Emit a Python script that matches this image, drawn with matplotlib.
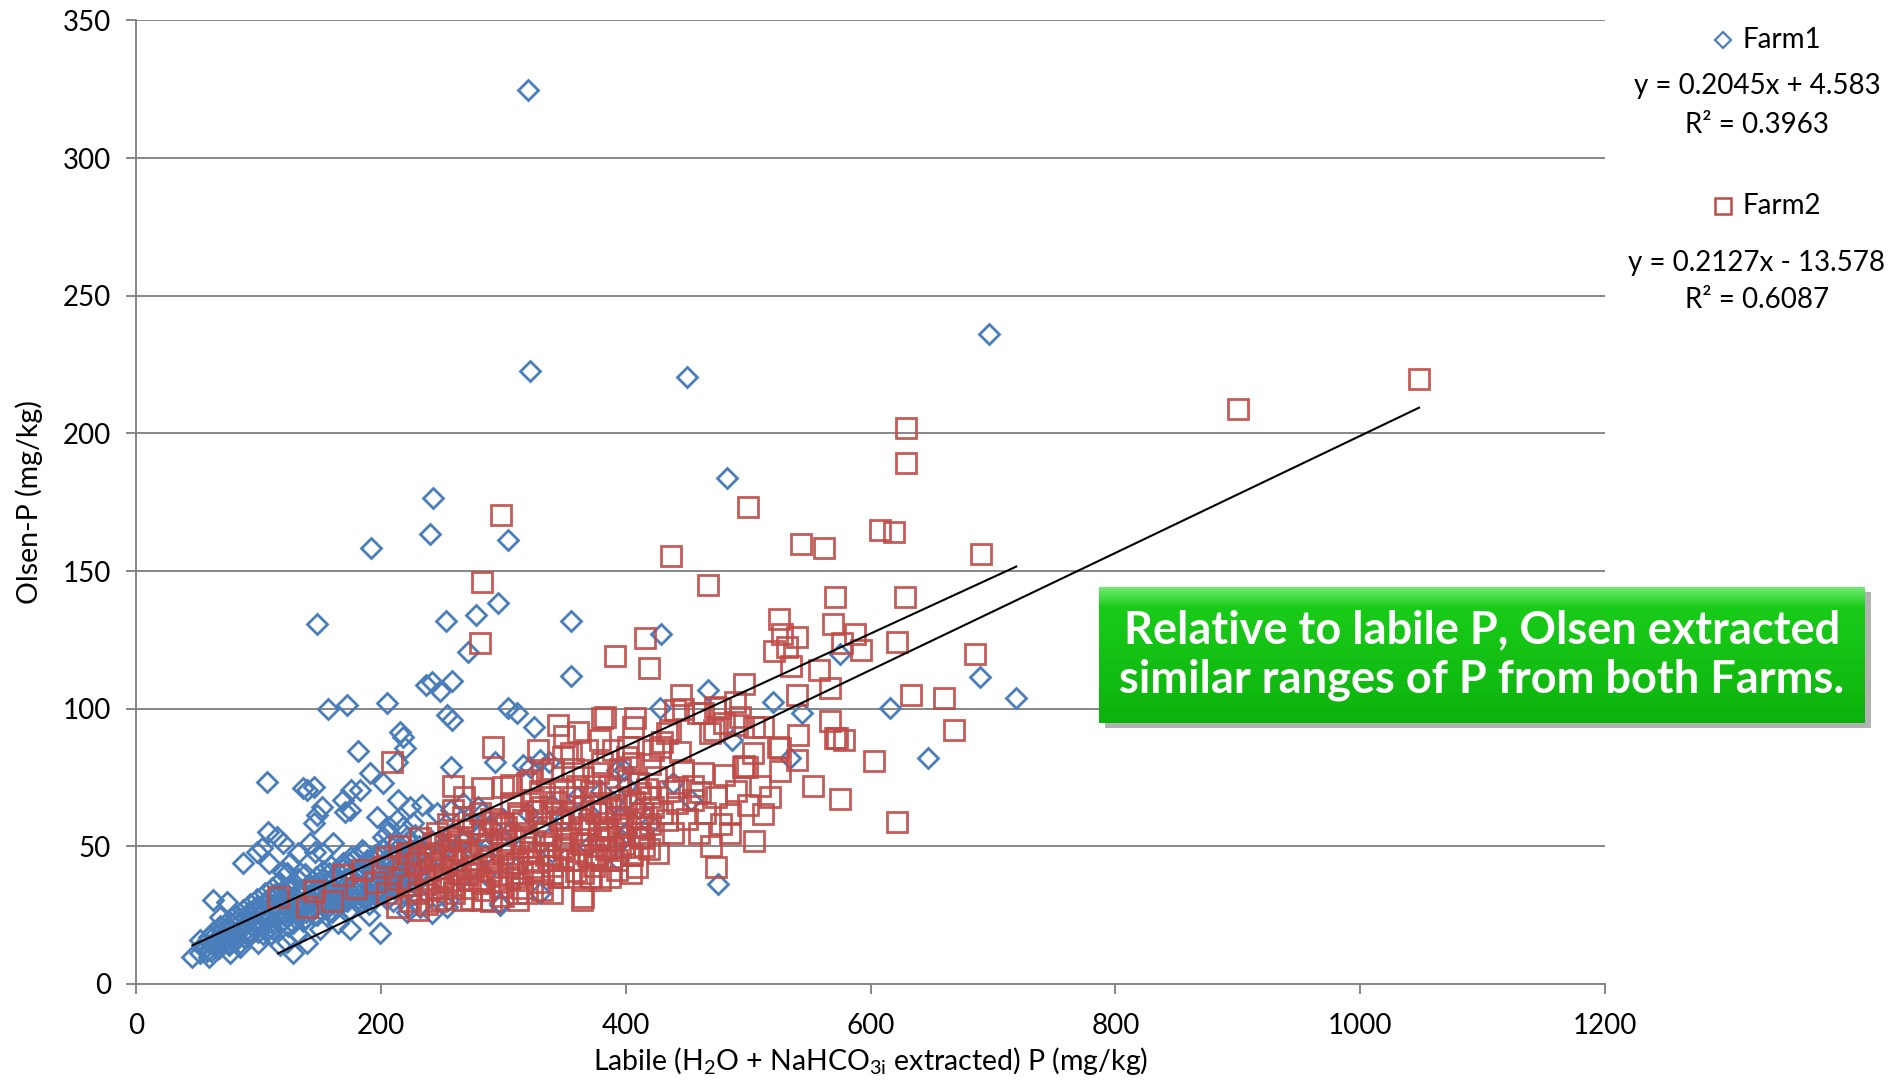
import numpy as np
import matplotlib
matplotlib.use("Agg")
import matplotlib.pyplot as plt
from matplotlib.lines import Line2D
from matplotlib.patches import Rectangle

plt.rcParams['font.family'] = ['Lato', 'DejaVu Sans']
plt.rcParams['mathtext.default'] = 'regular'

# Farm1 - labile P (x) and Olsen P (y)
farm1_x = [320, 322, 450, 697, 483, 243, 240, 304, 192, 148, 253, 278, 296, 355, 429, 355, 271,
           237, 242, 248, 258, 254, 258, 157, 172, 205, 304, 311, 325, 467, 428, 520, 544, 616,
           689, 719, 647, 534, 487, 475, 575, 293, 322, 337, 216, 218, 220, 181, 213, 257, 191,
           107, 136, 140, 145, 152, 148, 145, 169, 176, 171, 202, 214, 224, 234, 279, 283, 183,
           175, 197, 205, 218, 226, 246, 257, 267, 330, 316, 393, 399, 439, 453, 395, 397, 394,
           108, 115, 99, 103, 87, 63, 74, 69, 134, 126, 123, 146, 142, 158, 169, 176, 202, 207,
           213, 221, 185, 197, 213, 222, 242, 297, 255, 120, 132, 109, 120, 153, 161, 189, 197,
           148, 161, 172, 221, 232, 254, 297, 330, 199, 128,
           46, 52, 56, 60, 77, 85, 52, 123, 140, 55, 58, 62, 65, 68, 70, 72, 75, 78, 80, 82, 84,
           86, 88, 90, 92, 94, 96, 98, 100, 102, 104, 106, 108, 110, 112, 114, 116, 118, 120, 122,
           124, 126, 128, 130, 132, 134, 136, 138, 140, 142, 144, 146, 148, 150, 152, 154, 156,
           158, 160, 162, 164, 166, 168, 170, 172, 174, 176, 178, 180, 182, 184, 186, 188, 190,
           192, 194, 196, 198, 200, 202, 204, 206, 208, 210, 212, 214, 216, 218, 220, 222, 224,
           226, 228, 230, 234, 238, 242, 246, 250, 254, 258, 262, 266, 270, 275, 280, 285, 290,
           295, 300, 310, 320, 330, 340, 350, 360, 370, 380, 390, 400, 410, 420,
           100, 110, 118, 132, 150, 165, 175, 190, 210, 240, 265, 285, 310, 340, 370, 400,
           60, 63, 66, 69, 72, 75, 78, 81, 84, 87, 90, 93, 96, 99, 102, 105, 108, 111, 114, 117,
           120, 123, 126, 129, 132, 135, 138, 141, 144, 147, 150, 153, 156, 159, 162, 165, 168,
           171, 174, 177, 180, 183, 186, 189, 192, 195, 198, 201, 204, 207, 210, 213, 216, 219,
           222, 225, 228, 231,
           61, 64, 67, 70, 73, 76, 79, 82, 85, 88, 91, 94, 97, 100, 103, 106, 109, 112, 115, 118,
           121, 124, 127, 130, 133, 136, 139, 142, 145, 148, 151, 154, 157, 160, 163, 166, 169,
           172, 175, 178, 181, 184, 187, 190, 193, 196, 199, 202, 205, 208, 211, 214, 217, 220,
           223, 226, 229, 232]
farm1_y = [324.6, 222.7, 220.5, 236, 183.7, 176.7, 163.6, 161.4, 158.4, 130.6, 132, 134.2, 138.5,
           132, 127.3, 112, 120.6, 108.6, 109.7, 106.4, 110, 97.7, 95.9, 100, 101.3, 102, 100.4,
           98.4, 93.3, 106.8, 100.2, 102.4, 98.4, 100.2, 111.6, 104, 82.2, 82, 88.6, 36.3, 120,
           80.6, 78.8, 80.6, 91.5, 89.7, 85.7, 84.6, 80.6, 78.8, 76.6,
           73.3, 71.2, 70.4, 71.5, 64.3, 61.4, 58.5, 66.8, 70.4, 62.5, 73, 66.8, 64.3, 65, 64.3,
           62.1, 70.4, 63.2, 60.6, 54.8, 57, 58.5, 62.1, 63.2, 65.7, 81.3, 79.5, 77.7, 77.7, 73,
           66.8, 60.3, 52.3, 45,
           55.2, 53.4, 47.9, 49.4, 43.9, 30.5, 29.8, 24.3, 40.3, 43.9, 40.3, 47.9, 51.2, 40.3,
           43.9, 46.1, 53.4, 57, 59.5, 53.4, 48.7, 46.1, 35.2, 28, 25.8, 29.4, 30.5, 51.2, 47.6,
           43.9, 40.7, 47.6, 51.2, 45, 42.5, 35.2, 38.9, 41.4, 26.1, 28, 28, 28.7, 33, 18.5, 11.3,
           9.8, 11.3, 13, 9.8, 11.3, 13.4, 16, 15.3, 14.9, 14, 12, 15, 18, 13, 16, 20, 15, 22, 18,
           16, 24, 20, 17, 22, 26, 19, 23, 28, 21, 25, 18, 30, 24, 27, 20, 33, 26, 29, 23, 31, 27,
           35, 22, 30, 26, 33, 28, 24, 31, 36, 27, 32, 25, 30, 38, 29, 33, 26, 35, 31, 28, 37, 33,
           30, 35, 27, 39, 32, 36, 29, 41, 34, 31, 38, 35, 43, 32, 37, 40, 34, 45, 38, 35, 42, 39,
           47, 36, 41, 44, 38, 49, 42, 46, 40, 48, 44, 52, 46, 50, 43, 55, 47, 52, 58, 50, 54, 47,
           57, 52, 60, 55, 62, 57, 65, 60, 68, 62, 70, 66, 72, 64, 58,
           15, 18, 14, 18, 20, 22, 20, 25, 30, 35, 38, 40, 42, 48, 50, 55,
           17, 19, 16, 21, 18, 23, 20, 25, 22, 27, 24, 29, 26, 31, 28, 33, 30, 35, 32, 37, 34, 30,
           36, 32, 38, 34, 40, 36, 33, 39, 35, 41, 37, 43, 39, 36, 42, 38, 44, 40, 46, 42, 48, 44,
           41, 47, 43, 49, 45, 51, 47, 44, 50, 46, 52, 48, 54, 50,
           12, 14, 13, 15, 17, 14, 16, 18, 15, 17, 20, 18, 22, 19, 21, 24, 20, 23, 26, 22, 25, 21,
           27, 24, 28, 23, 26, 30, 25, 29, 27, 31, 28, 26, 32, 29, 33, 30, 27, 34, 31, 35, 32, 29,
           36, 33, 37, 34, 31, 38, 35, 39, 36, 33, 40, 37, 41, 38]

# Farm2
farm2_x = [1048, 900, 629, 629, 500, 298, 608, 619, 543, 562, 690, 437, 283, 467, 571, 628, 525,
           528, 540, 532, 521, 569, 577, 592, 587, 622, 281, 416, 391, 419, 558, 535, 567, 540,
           497, 489, 660, 633, 685, 445, 668, 567, 541, 573, 578, 603, 553, 575, 512, 485, 622,
           474, 365, 209, 292, 345, 361, 381, 379, 408, 383, 402, 428, 447, 463, 477, 493, 472,
           505, 526, 497, 526, 259, 440, 459, 473, 436, 444, 469, 480, 491, 512, 524, 571, 504,
           499, 540, 406, 434, 463, 480, 496, 461, 474, 422, 447, 442, 412, 422, 434, 439, 412,
           426, 409, 393, 442, 455, 381, 387, 395, 401, 406, 414,
           116, 145, 169, 185, 202, 259, 283, 306, 319, 364, 349, 355, 224, 234, 246, 256, 267,
           281, 312, 332, 349, 371, 393, 230, 213, 365, 377, 381, 372, 404, 324, 332, 338, 316,
           330, 346, 355, 365, 379, 387, 393, 349, 363, 377, 390, 283, 297, 306, 316, 328, 338,
           243, 257, 270, 221, 230, 240, 251, 262, 273, 283, 297, 311, 319, 267, 283, 240, 300,
           311, 324, 387, 379, 365, 332, 322, 300, 306, 410, 415, 420,
           250, 260, 275, 290, 295, 305, 315, 325, 335, 340, 345, 355, 360, 370, 375, 385, 395,
           400, 405, 350, 360, 340, 330, 290, 275, 265, 250, 235, 225, 215, 205, 195, 180, 160,
           140, 290, 340, 380, 400, 410, 420, 425, 430, 435, 450, 455, 460, 465, 470, 478, 485,
           490, 500, 505, 510, 518, 350, 357, 368, 375, 390, 395, 420, 430, 340, 328, 312, 300,
           287, 270, 260, 245, 255, 268, 232, 215, 205,
           222, 228, 236, 244, 248, 252, 258, 263, 268, 272, 278, 282, 288, 293, 298, 302, 308,
           313, 318, 322, 327, 333, 338, 343, 348, 352, 357, 362, 367, 372, 376, 382, 386, 392,
           397, 402, 407, 412, 417,
           224, 230, 238, 246, 250, 254, 260, 265, 270, 274, 280, 284, 290, 295, 300, 304, 310,
           315, 320, 324, 329, 335, 340, 345, 350, 354, 359, 364, 369, 374, 378, 384, 388, 394,
           399, 404, 409, 414, 419]
farm2_y = [219.6, 209, 202, 189.4, 173.2, 170.2, 165, 164, 160, 158.4, 156.2, 155.3, 146, 144.8,
           140.4, 140.4, 132.6, 127.3, 126, 122.5, 120.8, 130.8, 123.8, 121.2, 127.3, 124.3,
           123.8, 125.6, 119, 114.6, 114.2, 115.5, 107.6, 105, 109, 102.4, 103.7, 105, 119.9,
           105, 92.3, 95.4, 90.6, 89.3, 88.6, 81, 72, 67.2, 61.7, 61.7, 58.8, 42.4, 31.5, 80.6,
           86.2, 94, 91.5, 96.6, 88.6, 96.6, 97, 86.2, 86.2, 99.7, 98.4, 100.2, 97.1, 92.3, 93.2,
           85.8, 79.2, 77.4, 72, 99.5, 98.4, 100.6, 92.2, 84.2, 91.1, 94.8, 94, 93.3, 86, 89.3,
           83.9, 78.8, 81.3, 93.3, 91.1, 76.6, 75.9, 78.8, 69.7, 67.9, 85, 77.7, 71.5, 69.4, 64.3,
           59.5, 54.8, 53.4, 47.6, 42.5, 45, 65.7, 66.8, 62.1, 53.4, 49.7, 82.4, 80.2, 62.1,
           31.6, 33.8, 39.6, 41.4, 42.5, 63.2, 71.2, 72.3, 73, 30.5, 82.4, 83.9, 47.6, 46.1, 54.8,
           53.4, 60.6, 62.1, 30.5, 34.1, 38.9, 38.9, 41.4, 26.9, 28, 75.2, 76.6, 80.2, 38.9, 40.3,
           66.8, 64.3, 67.9, 59.5, 58.5, 59.5, 62.1, 64.3, 65.7, 63.2, 60.6, 49.7, 51.2, 52.3,
           49.7, 55.9, 54.8, 52.3, 49.7, 47.6, 45, 51.2, 48.7, 47.6, 47.6, 43.9, 41.4, 38.9, 41.4,
           37.8, 36.7, 35.2, 33, 33, 30.5, 30.5, 34.1, 47.6, 43.9, 42.5, 38.9, 37.8, 40.3, 76.6,
           74, 71.5, 65.7, 55, 50, 58,
           35, 45, 42, 45, 40, 38, 40, 52, 55, 40, 45, 55, 45, 58, 47, 56, 68, 58, 47, 70, 72, 62,
           70, 60, 58, 52, 45, 40, 36, 38, 33, 37, 35, 30, 28, 30, 33, 45, 65, 73, 68, 75, 62, 70,
           60, 72, 55, 62, 50, 58, 55, 70, 65, 52, 72, 68, 90, 78, 85, 72, 85, 78, 80, 88, 78, 85,
           62, 58, 50, 40, 36, 30, 58, 68, 53, 50, 46,
           36, 44, 38, 47, 42, 50, 45, 53, 48, 56, 43, 51, 46, 59, 49, 57, 44, 61, 53, 48, 63, 55,
           50, 66, 58, 53, 68, 60, 56, 70, 62, 57, 72, 64, 58, 74, 66, 60, 71,
           30, 33, 29, 35, 31, 37, 33, 40, 35, 31, 38, 34, 41, 37, 32, 43, 39, 35, 45, 41, 37, 47,
           43, 39, 49, 45, 41, 51, 47, 43, 53, 49, 45, 55, 51, 47, 57, 53, 49]

# trendline coefficients (slope, intercept) as printed on the chart
fit1 = (0.2045, 4.583)
fit2 = (0.2127, -13.578)

blue = '#4A7EBB'
red = '#BE4B48'
grid_c = '#868686'

fig = plt.figure(figsize=(18.89, 10.84), dpi=100)
ax = fig.add_axes([0.072, 0.0923, 0.7777, 0.8888])

ax.plot(farm1_x, farm1_y, linestyle='none', marker='D', markersize=10.5, mfc='none',
        mec=blue, mew=2.0, zorder=3)
ax.plot(farm2_x, farm2_y, linestyle='none', marker='s', markersize=14, mfc='none',
        mec=red, mew=2.0, alpha=0.9, zorder=4)

# trendlines over each series' x range
for xs, (m, b) in ((farm1_x, fit1), (farm2_x, fit2)):
    lx = np.array([min(xs), max(xs)])
    ax.plot(lx, m * lx + b, color='black', lw=1.5, zorder=5)

ax.set_xlim(0, 1200)
ax.set_ylim(0, 350)
ax.set_xticks(range(0, 1201, 200))
ax.set_yticks(range(0, 351, 50))
ax.yaxis.grid(True, color=grid_c, lw=1.4)
ax.set_axisbelow(True)
for s in ('top', 'right'):
    ax.spines[s].set_visible(False)
for s in ('left', 'bottom'):
    ax.spines[s].set_color(grid_c)
    ax.spines[s].set_linewidth(1.4)
ax.tick_params(axis='both', colors=grid_c, width=1.4, length=7, labelsize=20,
               labelcolor='black')
ax.tick_params(axis='x', pad=14)
ax.tick_params(axis='y', pad=11)

ax.set_xlabel(r'Labile (H$_2$O + NaHCO$_{3i}$ extracted) P (mg/kg)', fontsize=20.5, labelpad=4)
ax.set_ylabel('Olsen-P (mg/kg)', fontsize=20.5, labelpad=14)

# legend with trendline equations on the right
fs_leg = 20
fig.add_artist(Line2D([0.9121], [0.9631], marker='D', markersize=8.5, mfc='none', mec=blue,
                      mew=1.6, transform=fig.transFigure))
fig.text(0.9222, 0.9631, 'Farm1', fontsize=fs_leg, va='center', ha='left')
fig.text(0.9301, 0.9207, 'y = 0.2045x + 4.583', fontsize=fs_leg, va='center', ha='center')
fig.text(0.9301, 0.8845, 'R² = 0.3963', fontsize=fs_leg, va='center', ha='center')
fig.add_artist(Line2D([0.9121], [0.8100], marker='s', markersize=12, mfc='none', mec=red,
                      mew=1.8, transform=fig.transFigure))
fig.text(0.9222, 0.8100, 'Farm2', fontsize=fs_leg, va='center', ha='left')
fig.text(0.9301, 0.7574, 'y = 0.2127x - 13.578', fontsize=fs_leg, va='center', ha='center')
fig.text(0.9301, 0.7232, 'R² = 0.6087', fontsize=fs_leg, va='center', ha='center')

# green callout box
bx, by, bw, bh = 0.5818, 0.333, 0.4055, 0.1255
fig.add_artist(Rectangle((bx + 0.003, by - 0.005), bw, bh, transform=fig.transFigure,
                         facecolor='#555555', alpha=0.45, edgecolor='none', zorder=2))
bax = fig.add_axes([bx, by, bw, bh], zorder=3)
top = np.array([0.45, 0.93, 0.45])
mid = np.array([0.10, 0.80, 0.10])
bot = np.array([0.05, 0.70, 0.05])
t = np.linspace(0, 1, 100)[:, None]
grad = np.where(t < 0.15, top + (mid - top) * (t / 0.15), mid + (bot - mid) * ((t - 0.15) / 0.85))
bax.imshow(grad[:, None, :], aspect='auto', extent=(0, 1, 0, 1))
bax.set_xlim(0, 1)
bax.set_ylim(0, 1)
bax.axis('off')
bax.text(0.5, 0.5, 'Relative to labile P, Olsen extracted\nsimilar ranges of P from both Farms.',
         color='white', fontsize=32.5, fontweight='bold', ha='center', va='center',
         linespacing=1.2)

fig.savefig('out.png', dpi=100)
